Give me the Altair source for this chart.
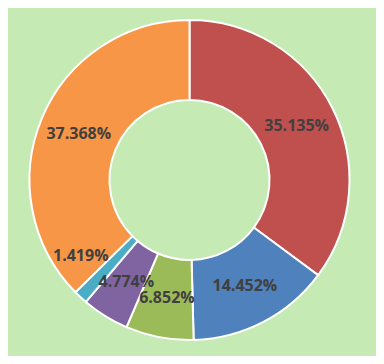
import altair as alt
import pandas as pd

labels = ["35.135%", "14.452%", "6.852%", "4.774%", "1.419%", "37.368%"]
values = [35.135, 14.452, 6.852, 4.774, 1.419, 37.368]
colors = ["#C0504D", "#4F81BD", "#9BBB59", "#8064A2", "#4BACC6", "#F79646"]
order = [1, 2, 3, 4, 5, 6]
shifted = [False, False, False, False, True, False]

df = pd.DataFrame({"label": labels, "value": values, "order": order, "shifted": shifted})

base = alt.Chart(df).encode(
    theta=alt.Theta("value:Q", stack=True),
    order=alt.Order("order:Q"),
    x=alt.value(181.5),
    y=alt.value(172),
)

arcs = base.mark_arc(outerRadius=160, innerRadius=80, stroke="white", strokeWidth=2).encode(
    color=alt.Color("label:N", scale=alt.Scale(domain=labels, range=colors), legend=None),
)

text_style = dict(radius=120, font="Open Sans", fontWeight="bold", fontSize=16, color="#404040")

text = base.mark_text(**text_style).encode(
    text=alt.condition("datum.shifted", alt.value(""), alt.Text("label:N")),
)

text_shift = base.mark_text(dx=-27, dy=-12, **text_style).encode(
    text=alt.condition("datum.shifted", alt.Text("label:N"), alt.value("")),
)

chart = (arcs + text + text_shift).properties(
    width=368,
    height=348,
    padding=0,
    background="#C5EAB3",
    autosize=alt.AutoSizeParams(type="fit", contains="padding"),
).configure_view(stroke=None)

chart.save("out.html", embed_options={"renderer": "svg", "actions": False})
